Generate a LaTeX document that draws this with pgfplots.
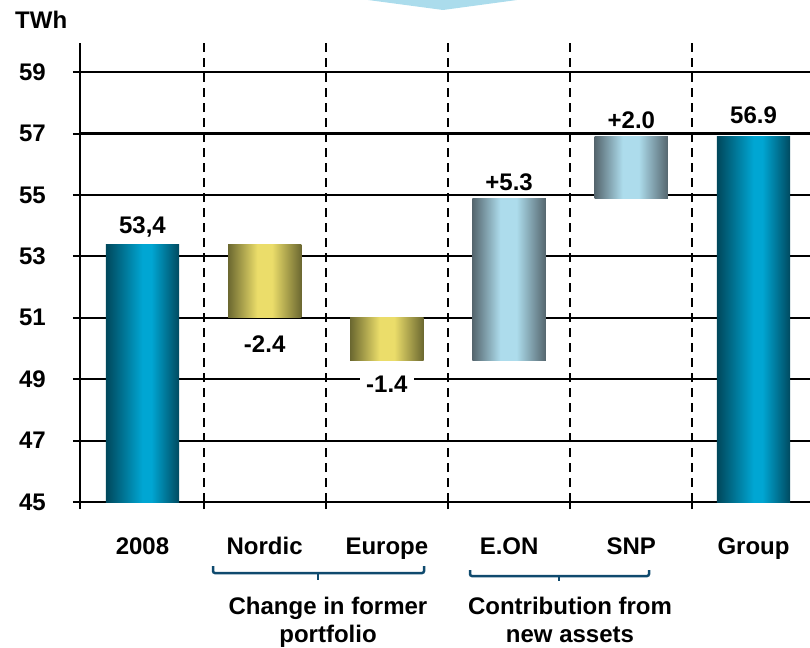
\documentclass[border=0pt]{standalone}
\usepackage{pgfplots}
\pgfplotsset{compat=1.18}
\usepackage{fontspec}
\setmainfont{Liberation Sans}
\definecolor{bL}{HTML}{00475B}
\definecolor{bM}{HTML}{00A6D3}
\definecolor{bR}{HTML}{004A60}
\definecolor{yL}{HTML}{6B6830}
\definecolor{yM}{HTML}{EBDD6A}
\definecolor{yR}{HTML}{6B6830}
\definecolor{lL}{HTML}{55666E}
\definecolor{lM}{HTML}{ADDCEC}
\definecolor{lR}{HTML}{55666E}
\definecolor{arrowc}{HTML}{ABDCEC}
\definecolor{bracec}{HTML}{0F4A6E}
\pgfdeclarehorizontalshading{blueS}{100bp}{color(0bp)=(bL); color(25bp)=(bL); color(50bp)=(bM); color(56bp)=(bM); color(75bp)=(bR); color(100bp)=(bR)}
\pgfdeclarehorizontalshading{yelS}{100bp}{color(0bp)=(yL); color(25bp)=(yL); color(45bp)=(yM); color(55bp)=(yM); color(75bp)=(yR); color(100bp)=(yR)}
\pgfdeclarehorizontalshading{lbS}{100bp}{color(0bp)=(lL); color(25bp)=(lL); color(44bp)=(lM); color(55bp)=(lM); color(75bp)=(lR); color(100bp)=(lR)}
\newcommand{\bigf}{\bfseries\fontsize{24}{28}\selectfont}
\begin{document}
\begin{tikzpicture}[x=1pt,y=1pt,font=\bigf]
\path[use as bounding box] (0pt,0pt) rectangle (810pt,-647pt);
\fill[arrowc] (368pt,0pt) -- (443pt,-10pt) -- (517pt,0pt) -- (517pt,5pt) -- (368pt,5pt) -- cycle;
\node[anchor=base west, inner sep=0pt] at (15pt,-29pt) {TWh};
\begin{axis}[
  at={(80pt,-502pt)}, anchor=south west,
  scale only axis, width=730pt, height=459pt,
  xmin=-0.511, xmax=5.462, ymin=45, ymax=59.95,
  axis x line*=bottom, axis y line*=left,
  axis line style={line width=2.4pt, black},
  ytick={45,47,...,59},
  ymajorgrids, major y grid style={line width=2.2pt, black},
  xtick={-0.511,0.5,1.5,2.5,3.5,4.5}, xticklabels={},
  xmajorgrids, major x grid style={line width=2pt, black, dash pattern=on 9pt off 6pt},
  extra x ticks={0,1,2,3,4,5},
  extra x tick labels={2008,Nordic,Europe,E.ON,SNP,Group},
  extra x tick style={grid=none, major tick length=0pt,
     tick label style={anchor=base, yshift=-52pt}},
  tick align=outside, major tick length=7pt,
  tick style={line width=2pt, black},
  /pgf/number format/assume math mode=true,
  ticklabel style={font=\bigf},
  yticklabel style={anchor=east, inner sep=0pt, xshift=-27pt},
  ybar stacked, bar width=0.6,
]
% invisible bottoms of the bars
\addplot[draw=none, fill=none] coordinates {(0,45) (1,51.0) (2,49.6) (3,49.6) (4,54.9) (5,45)};
% 2008: 53.4
\addplot[draw=none, shading=blueS] coordinates {(0,8.4) (1,0) (2,0) (3,0) (4,0) (5,0)};
% Nordic: -2.4
\addplot[draw=none, shading=yelS] coordinates {(0,0) (1,2.4) (2,0) (3,0) (4,0) (5,0)};
% Europe: -1.4
\addplot[draw=none, shading=yelS] coordinates {(0,0) (1,0) (2,1.4) (3,0) (4,0) (5,0)};
% E.ON: +5.3
\addplot[draw=none, shading=lbS] coordinates {(0,0) (1,0) (2,0) (3,5.3) (4,0) (5,0)};
% SNP: +2.0
\addplot[draw=none, shading=lbS] coordinates {(0,0) (1,0) (2,0) (3,0) (4,2.0) (5,0)};
% Group: 56.9
\addplot[draw=none, shading=blueS] coordinates {(0,0) (1,0) (2,0) (3,0) (4,0) (5,11.9)};
\draw[black, line width=2.4pt] (rel axis cs:0,0) -- (rel axis cs:1,0);
\node[anchor=base] at (axis cs:0,53.76) {53,4};
\node[anchor=base] at (axis cs:1,49.88) {-2.4};
\node[anchor=base, fill=white, inner xsep=6pt, inner ysep=3pt] at (axis cs:2,48.57) {-1.4};
\node[anchor=base] at (axis cs:3,55.16) {+5.3};
\node[anchor=base] at (axis cs:4,57.18) {+2.0};
\node[anchor=base] at (axis cs:5,57.34) {56.9};
\end{axis}
\draw[bracec, line width=2.5pt, rounded corners=2pt] (213pt,-566pt) -- (213pt,-573pt) -- (424pt,-573pt) -- (424pt,-566pt);
\draw[bracec, line width=2.5pt] (318pt,-573pt) -- (318pt,-580pt);
\draw[bracec, line width=2.5pt, rounded corners=2pt] (470pt,-570pt) -- (470pt,-576pt) -- (649pt,-576pt) -- (649pt,-570pt);
\draw[bracec, line width=2.5pt] (559pt,-576pt) -- (559pt,-581pt);
\node[anchor=base] at (328pt,-614pt) {Change in former};
\node[anchor=base] at (328pt,-642pt) {portfolio};
\node[anchor=base] at (570pt,-614pt) {Contribution from};
\node[anchor=base] at (570pt,-642pt) {new assets};
\end{tikzpicture}
\end{document}
